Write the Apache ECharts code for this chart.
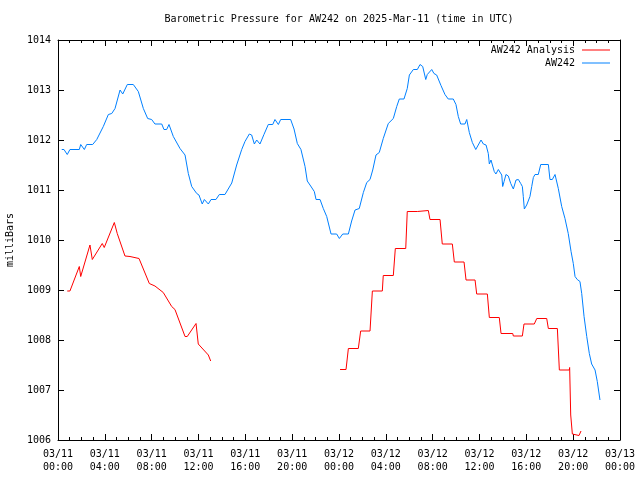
<!DOCTYPE html>
<html>
<head>
<meta charset="utf-8">
<script src="https://cdn.jsdelivr.net/npm/echarts@6/dist/echarts.min.js"></script>
<style>html,body{margin:0;padding:0;background:#fff;}#c{width:640px;height:480px;}</style>
</head>
<body>
<div id="c"></div>
<script>
// Hours since 03/11 00:00 UTC
var tickLabels = ['03/11\n00:00','03/11\n04:00','03/11\n08:00','03/11\n12:00','03/11\n16:00','03/11\n20:00',
  '03/12\n00:00','03/12\n04:00','03/12\n08:00','03/12\n12:00','03/12\n16:00','03/12\n20:00','03/13\n00:00'];

var redHours = [0.79,1.02,1.82,1.94,2.73,2.93,3.78,3.95,4.81,5.06,5.72,6.15,6.92,7.8,8.28,8.99,9.71,9.99,10.85,11.04,11.79,11.98,12.84,13.04,
  18,
  24.09,24.6,24.8,25.65,25.85,26.65,26.85,27.7,27.78,28.64,28.81,29.7,29.83,30.69,30.77,31.63,31.77,32.63,32.82,33.68,33.85,34.68,34.85,35.62,
  35.76,36.67,36.84,37.69,37.84,38.84,38.89,39.66,39.8,40.68,40.89,41.74,41.88,42.65,42.82,43.67,43.7,43.79,43.93,44.0,44.5,44.67];
var redValues = [1008.98,1008.98,1009.47,1009.27,1009.9,1009.61,1009.93,1009.85,1010.35,1010.13,1009.68,1009.67,1009.63,1009.13,1009.08,1008.95,1008.67,1008.61,1008.07,1008.07,1008.33,1007.92,1007.7,1007.58,
  null,
  1007.41,1007.41,1007.83,1007.83,1008.18,1008.18,1008.98,1008.98,1009.29,1009.29,1009.83,1009.83,1010.57,1010.57,1010.59,1010.59,1010.41,1010.41,1009.92,1009.92,1009.56,1009.56,1009.2,1009.2,
  1008.92,1008.92,1008.45,1008.45,1008.13,1008.13,1008.08,1008.08,1008.32,1008.32,1008.43,1008.43,1008.23,1008.23,1007.4,1007.4,1007.45,1006.5,1006.12,1006.09,1006.09,1006.18];

var blueHours = [0.32,0.51,0.79,1.02,1.82,1.94,2.25,2.45,2.96,3.31,3.87,4.30,4.59,4.87,5.30,5.53,5.92,6.43,6.86,7.29,7.66,8.00,8.28,8.86,9.05,9.28,9.48,9.85,
  10.42,10.85,11.13,11.42,11.85,12.04,12.32,12.50,12.84,13.07,13.49,13.78,14.26,14.84,15.26,15.69,15.97,16.34,16.54,16.77,16.97,17.25,17.59,17.96,
  18.34,18.53,18.82,19.02,19.87,20.16,20.44,20.75,21.10,21.29,21.58,21.89,22.04,22.38,22.66,22.95,23.32,23.80,24.03,24.32,24.80,25.08,25.37,25.73,
  26.08,26.37,26.65,26.88,27.16,27.44,27.78,28.21,28.64,28.93,29.15,29.55,29.83,30.01,30.35,30.69,30.92,31.15,31.41,31.54,31.71,31.92,32.11,32.34,
  32.71,33.05,33.33,33.76,33.99,34.19,34.39,34.76,34.91,35.13,35.39,35.68,35.85,36.13,36.33,36.56,36.75,36.84,36.98,37.09,37.26,37.40,37.61,37.75,
  37.90,37.98,38.10,38.26,38.46,38.67,38.89,39.12,39.32,39.52,39.66,39.74,39.83,40.03,40.31,40.46,40.60,40.74,41.02,41.23,41.88,42.02,42.22,42.45,
  42.59,42.73,43.02,43.30,43.58,43.82,44.01,44.16,44.35,44.58,44.73,44.93,45.16,45.38,45.58,45.87,46.06,46.29];
var blueValues = [1011.81,1011.81,1011.71,1011.81,1011.81,1011.91,1011.81,1011.91,1011.91,1012.01,1012.27,1012.51,1012.53,1012.63,1013.0,1012.92,1013.11,1013.11,1012.97,1012.63,1012.43,1012.41,1012.32,1012.32,1012.21,1012.21,1012.31,1012.07,
  1011.83,1011.7,1011.33,1011.07,1010.93,1010.9,1010.72,1010.81,1010.72,1010.81,1010.81,1010.91,1010.91,1011.14,1011.5,1011.81,1011.97,1012.12,1012.1,1011.92,1012.0,1011.92,1012.11,1012.31,
  1012.31,1012.41,1012.31,1012.41,1012.41,1012.22,1011.93,1011.81,1011.47,1011.18,1011.08,1010.97,1010.81,1010.81,1010.63,1010.47,1010.12,1010.12,1010.03,1010.12,1010.12,1010.38,1010.6,1010.63,
  1010.95,1011.15,1011.21,1011.4,1011.7,1011.75,1012.03,1012.33,1012.43,1012.67,1012.82,1012.82,1013.03,1013.3,1013.41,1013.41,1013.51,1013.47,1013.21,1013.31,1013.31,1013.41,1013.33,1013.3,
  1013.09,1012.91,1012.82,1012.82,1012.71,1012.47,1012.32,1012.32,1012.41,1012.15,1011.95,1011.81,1011.81,1012.0,1011.92,1011.9,1011.73,1011.52,1011.6,1011.57,1011.37,1011.32,1011.41,1011.4,
  1011.3,1011.07,1011.17,1011.31,1011.28,1011.13,1011.02,1011.2,1011.21,1011.13,1011.07,1010.87,1010.62,1010.7,1010.87,1011.07,1011.25,1011.31,1011.31,1011.51,1011.51,1011.21,1011.21,1011.31,
  1011.31,1011.03,1010.67,1010.43,1010.13,1009.77,1009.53,1009.27,1009.21,1009.17,1008.93,1008.47,1008.07,1007.73,1007.52,1007.4,1007.17,1006.8];

function zip(xs, ys) {
  var out = [];
  for (var i = 0; i < xs.length; i++) out.push([xs[i], ys[i] === null ? '-' : ys[i]]);
  return out;
}

var FONT = 'DejaVu Sans Mono';
var chart = echarts.init(document.getElementById('c'), null, {renderer: 'canvas'});

function xAxisDef(pos, showLabel) {
  return {
    type: 'value', position: pos, min: 0, max: 48, interval: 4,
    axisLine: {show: true, onZero: false, lineStyle: {color: '#000', width: 1}},
    axisTick: {show: true, inside: true, length: 6, lineStyle: {color: '#000'}},
    minorTick: {show: true, splitNumber: 4, length: 3, lineStyle: {color: '#000'}},
    splitLine: {show: false},
    axisLabel: {
      show: showLabel, margin: 8, fontFamily: FONT, fontSize: 10, color: '#000', lineHeight: 13,
      formatter: function (v) { var i = Math.round(v / 4); return tickLabels[i] || ''; }
    }
  };
}
function yAxisDef(pos, showLabel) {
  return {
    type: 'value', position: pos, min: 1006, max: 1014, interval: 1,
    name: showLabel ? 'milliBars' : '', nameLocation: 'middle', nameRotate: 90, nameGap: 43,
    nameTextStyle: {fontFamily: FONT, fontSize: 10, color: '#000'},
    axisLine: {show: true, onZero: false, lineStyle: {color: '#000', width: 1}},
    axisTick: {show: true, inside: true, length: 6, lineStyle: {color: '#000'}},
    splitLine: {show: false},
    axisLabel: {show: showLabel, margin: 7, fontFamily: FONT, fontSize: 10, color: '#000',
      formatter: function (v) { return String(Math.round(v)); }}
  };
}

chart.setOption({
  animation: false,
  backgroundColor: '#fff',
  title: {
    text: 'Barometric Pressure for AW242 on 2025-Mar-11 (time in UTC)',
    left: 339, top: 14, textAlign: 'center', padding: 0,
    textStyle: {fontFamily: FONT, fontSize: 10, fontWeight: 'normal', color: '#000'}
  },
  legend: [
    {data: ['AW242 Analysis'], right: 30, top: 45, align: 'right', itemWidth: 28, itemHeight: 10, padding: 0,
     icon: 'path://M0,4.5L28,4.5L28,5.5L0,5.5Z',
     textStyle: {fontFamily: FONT, fontSize: 10, color: '#000', padding: [0, 2, 0, 0]}},
    {data: ['AW242'], right: 30, top: 58, align: 'right', itemWidth: 28, itemHeight: 10, padding: 0,
     icon: 'path://M0,4.5L28,4.5L28,5.5L0,5.5Z',
     textStyle: {fontFamily: FONT, fontSize: 10, color: '#000', padding: [0, 2, 0, 0]}}
  ],
  grid: {left: 58, right: 20, top: 40, bottom: 40, containLabel: false, outerBoundsMode: 'none'},
  xAxis: [xAxisDef('bottom', true), xAxisDef('top', false)],
  yAxis: [yAxisDef('left', true), yAxisDef('right', false)],
  series: [
    {name: 'AW242 Analysis', type: 'line', xAxisIndex: 0, yAxisIndex: 0, data: zip(redHours, redValues),
     showSymbol: false, symbol: 'none', connectNulls: false, color: '#ff0000',
     lineStyle: {color: '#ff0000', width: 1}},
    {name: 'AW242', type: 'line', xAxisIndex: 0, yAxisIndex: 0, data: zip(blueHours, blueValues),
     showSymbol: false, symbol: 'none', color: '#0080ff',
     lineStyle: {color: '#0080ff', width: 1}}
  ]
});
</script>
</body>
</html>
